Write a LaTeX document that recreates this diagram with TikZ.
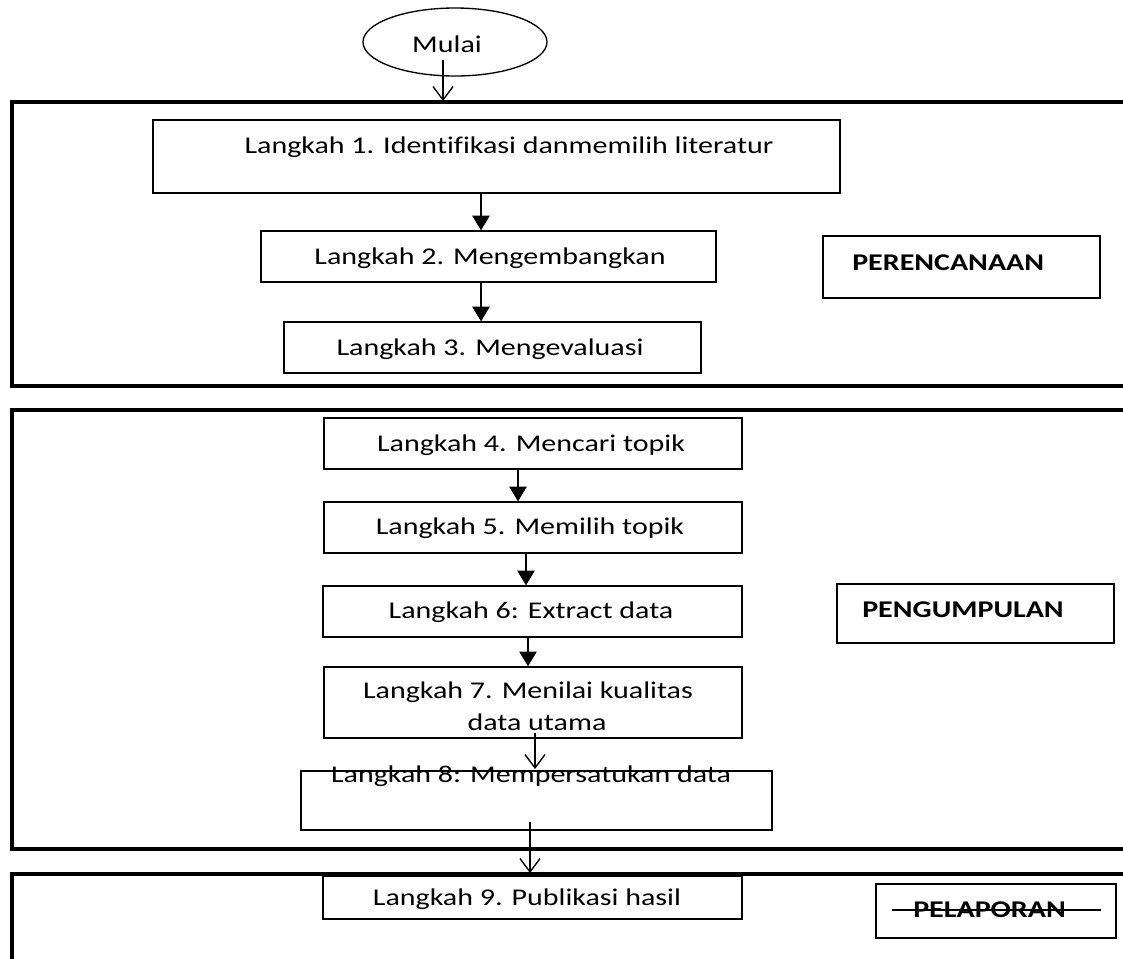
\documentclass[tikz,border=0pt]{standalone}
\usepackage{fontspec}
\setmainfont{Carlito}[FakeStretch=1.25,Ligatures=NoCommon]
\usetikzlibrary{arrows.meta,fit,shapes.geometric}
\begin{document}
\begin{tikzpicture}[x=0.75pt,y=-0.75pt,
  box/.style={draw,line width=1pt,inner sep=0pt},
  txt/.style={anchor=base,inner sep=0pt,font=\fontsize{18}{24}\selectfont},
  headtxt/.style={anchor=base west,inner sep=0pt,font=\fontsize{18}{24}\selectfont\bfseries},
  frameline/.style={line width=3.5pt},
  farr/.style={line width=1pt,-{Triangle[length=11pt,width=13pt]}},
  oarr/.style={line width=1pt,-{Straight Barb[length=10pt,width=15pt]}}]
\useasboundingbox (0,0) rectangle (1123,958);

% start ellipse
\node[draw,ellipse,line width=1pt,minimum width=138pt,minimum height=51pt,inner sep=0pt] (mulai) at (455,42) {};
\node[txt] (mulaitxt) at (447,52) {Mulai};
\coordinate (m0) at (443,60);
\coordinate (f1) at (443,101);
\draw[oarr] (m0) -- (f1);

% section frames
\draw[frameline] (1130,102) -- (12,102) -- (12,386) -- (1130,386);
\draw[frameline] (1130,410) -- (12,410) -- (12,849) -- (1130,849);
\draw[frameline] (1130,874) -- (12,874) -- (12,970);

% section 1
\node[box,fit={(153,120) (840,193)}] (b1) {};
\node[txt] (t1) at (509,153) {Langkah 1. Identifikasi danmemilih literatur};
\node[box,fit={(261,231) (716,282)}] (b2) {};
\node[txt] (t2) at (490,264) {Langkah 2. Mengembangkan};
\node[box,fit={(284,322) (701,373)}] (b3) {};
\node[txt] (t3) at (490,355) {Langkah 3. Mengevaluasi};
\node[box,fit={(823,236) (1100,298)}] (hp) {};
\node[headtxt] (hptxt) at (852,270) {PERENCANAAN};

\coordinate (xa) at (481,0);
\draw[farr] (b1.south -| xa) -- (b2.north -| xa);
\draw[farr] (b2.south -| xa) -- (b3.north -| xa);

% section 2
\node[box,fit={(324,418) (742,469)}] (b4) {};
\node[txt] (t4) at (531,451) {Langkah 4. Mencari topik};
\node[box,fit={(324,502) (742,553)}] (b5) {};
\node[txt] (t5) at (530,534) {Langkah 5. Memilih topik};
\node[box,fit={(323,586) (742,637)}] (b6) {};
\node[txt] (t6) at (531,618) {Langkah 6: Extract data};
\node[box,fit={(324,667) (742,738)}] (b7) {};
\node[txt] (t7a) at (528,698) {Langkah 7. Menilai kualitas};
\node[txt] (t7b) at (537,730) {data utama};
\node[box,fit={(301,771) (772,830)}] (b8) {};
\node[txt] (t8) at (531,782) {Langkah 8: Mempersatukan data};
\node[box,fit={(837,584) (1114,643)}] (hg) {};
\node[headtxt] (hgtxt) at (862,617) {PENGUMPULAN};

\coordinate (x4) at (518,0);
\coordinate (x5) at (526,0);
\coordinate (x6) at (528,0);
\draw[farr] (b4.south -| x4) -- (b5.north -| x4);
\draw[farr] (b5.south -| x5) -- (b6.north -| x5);
\draw[farr] (b6.south -| x6) -- (b7.north -| x6);
\coordinate (a7s) at (535,733);
\coordinate (a7e) at (535,769);
\draw[oarr] (a7s) -- (a7e);
\coordinate (a8s) at (530,822);
\coordinate (a8e) at (530,873);
\draw[oarr] (a8s) -- (a8e);

% section 3
\node[box,fit={(323,876) (742,919)}] (b9) {};
\node[txt] (t9) at (527,905) {Langkah 9. Publikasi hasil};
\node[box,fit={(876,884) (1116,938)}] (hl) {};
\node[headtxt] (hltxt) at (913,917) {PELAPORAN};
\draw[line width=1pt] (892,910) -- (1101,910);
\end{tikzpicture}
\end{document}
